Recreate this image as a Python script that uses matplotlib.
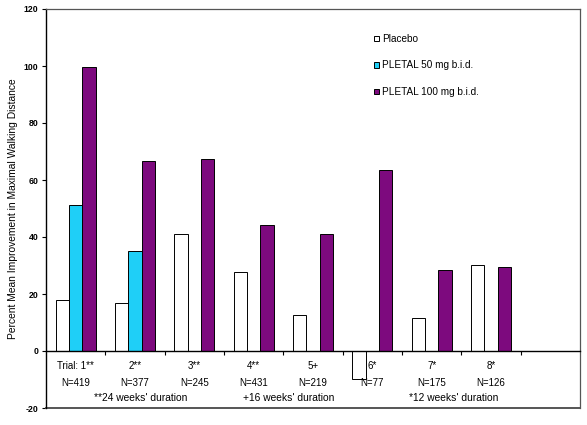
import numpy as np
import matplotlib
matplotlib.use("Agg")
import matplotlib.pyplot as plt

# ---- data ----
trial_labels = ["Trial: 1**", "2**", "3**", "4**", "5+", "6*", "7*", "8*"]
n_labels = ["N=419", "N=377", "N=245", "N=431", "N=219", "N=77", "N=175", "N=126"]
placebo = [18.0, 16.7, 40.9, 27.6, 12.8, -9.7, 11.5, 30.1]
pletal50 = [51.3, 35.2, np.nan, np.nan, np.nan, np.nan, np.nan, np.nan]
pletal100 = [99.7, 66.7, 67.4, 44.1, 40.9, 63.4, 28.4, 29.4]
series_names = ["Placebo", "PLETAL 50 mg b.i.d.", "PLETAL 100 mg b.i.d."]
duration_labels = ["**24 weeks' duration", "+16 weeks' duration", "*12 weeks' duration"]
duration_pos = [1.09, 3.59, 6.37]
yticks = [-20, 0, 20, 40, 60, 80, 100, 120]

narrow = ["Liberation Sans Narrow", "Liberation Sans", "DejaVu Sans"]
regular = ["Liberation Sans", "DejaVu Sans"]

fig = plt.figure(figsize=(5.87, 4.25), dpi=100)
ax = fig.add_axes([46/587, 1-408/425, (580-46)/587, (408-9)/425])

x = np.arange(len(trial_labels))
w = 0.224
ax.bar(x - w, placebo, w, color="white", edgecolor="black", linewidth=0.7, label=series_names[0])
ax.bar(x, pletal50, w, color="#1FCFF7", edgecolor="black", linewidth=0.7, label=series_names[1])
ax.bar(x + w, pletal100, w, color="#7D0A7E", edgecolor="black", linewidth=0.7, label=series_names[2])

ax.set_xlim(-0.5, 8.5)
ax.set_ylim(-20, 120)
ax.set_yticks(yticks)
ax.set_yticklabels([str(v) for v in yticks], family=narrow, fontweight="bold", fontsize=6.3)
ax.tick_params(axis="y", direction="out", length=3, width=0.8, pad=2.5)

ax.spines["bottom"].set_position(("data", 0))
ax.spines["bottom"].set_linewidth(1.0)
ax.spines["left"].set_linewidth(1.0)
for s in ["top", "right"]:
    ax.spines[s].set_color("#555555")
    ax.spines[s].set_linewidth(0.9)
ax.axhline(-20, color="#555555", linewidth=1.4, clip_on=False)
ax.set_xticks(np.arange(len(trial_labels)) + 0.5)
ax.set_xticklabels([])
ax.tick_params(axis="x", direction="out", length=3, width=0.8)

for i in range(len(trial_labels)):
    ax.text(x[i], -5.3, trial_labels[i], ha="center", va="center", family=narrow, fontsize=7)
    ax.text(x[i], -11.3, n_labels[i], ha="center", va="center", family=narrow, fontsize=7)
for p, t in zip(duration_pos, duration_labels):
    ax.text(p, -16.4, t, ha="center", va="center", family=narrow, fontsize=7.4)

ax.set_ylabel("Percent Mean Improvement in Maximal Walking Distance", family=regular, fontsize=7.4)
ax.yaxis.set_label_coords(-(46-18)/534, 0.5)

ax.legend(loc="upper left", bbox_to_anchor=(374/587, 1-34/425), bbox_transform=fig.transFigure,
          frameon=False, prop={"family": narrow, "size": 7.2}, handlelength=0.45, handleheight=0.45,
          handletextpad=0.35, labelspacing=1.65, borderpad=0, borderaxespad=0)

fig.savefig("out.png", dpi=100)
